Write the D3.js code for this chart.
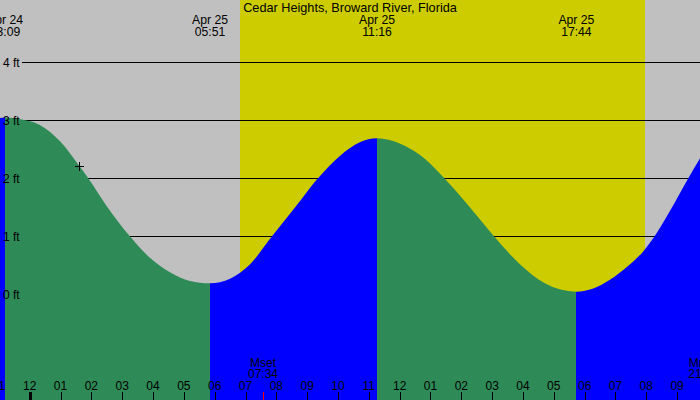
<!DOCTYPE html>
<html><head><meta charset="utf-8">
<script src="https://cdn.jsdelivr.net/npm/d3@7"></script>
<style>html,body{margin:0;padding:0;background:#c0c0c0;} svg{display:block;}</style>
</head><body><svg id="c" width="700" height="400"></svg>
<script>
const title = "Cedar Heights, Broward River, Florida";
// hours after midnight Apr 25, tide height in feet
const tideHours = [-0.963, -0.8, -0.3, 0.33, 1.0, 1.6, 1.9, 2.5, 3.25, 3.9, 4.55, 5.2, 5.85, 6.5, 7.15, 7.86, 8.61, 9.35, 10.07, 10.71, 11.267, 12.0, 12.66, 13.31, 13.96, 14.5, 15.06, 15.9, 16.71, 17.733, 18.28, 18.82, 19.37, 19.9, 20.23, 20.77, 21.34, 21.74, 22.4];
const tideFeet  = [3.04, 3.05, 3.02, 2.92, 2.63, 2.22, 2.0, 1.52, 1.0, 0.63, 0.38, 0.23, 0.19, 0.27, 0.52, 1.0, 1.5, 2.0, 2.39, 2.62, 2.69, 2.60, 2.40, 2.08, 1.70, 1.36, 1.0, 0.52, 0.19, 0.045, 0.10, 0.25, 0.47, 0.74, 0.97, 1.44, 1.98, 2.34, 2.85];
const extremeHours = [-0.8, 5.85, 11.267, 17.733];
const extremeDates = ["Apr 24", "Apr 25", "Apr 25", "Apr 25"];
const extremeTimes = ["23:09", "05:51", "11:16", "17:44"];
const sunHours = [6.82, 19.95]; // sunrise, sunset
const moonHours = [7.567, 21.85];
const moonNames = ["Mset", "Mrise"];
const moonTimes = ["07:34", "21:51"];
const hourTicks = d3.range(-1, 23);
const footTicks = [0, 1, 2, 3, 4];
const markerHour = 1.61, markerFeet = 2.22;

const W = 700, H = 400;
const svg = d3.select("#c");
const x = d3.scaleLinear().domain([-0.963, 21.742]).range([0, W]);
const y = d3.scaleLinear().domain([0, 4]).range([294.3, 62.3]);
const font = "'Liberation Sans', Arial, sans-serif";

svg.append("rect").attr("width", W).attr("height", H).attr("fill", "#c0c0c0");
svg.append("rect").attr("x", Math.round(x(sunHours[0]))).attr("y", 0)
  .attr("width", Math.round(x(sunHours[1])) - Math.round(x(sunHours[0]))).attr("height", H)
  .attr("fill", "#cccc00");

// grid lines
svg.append("g").selectAll("line").data(footTicks).join("line")
  .attr("x1", 22).attr("x2", W).attr("y1", d => Math.round(y(d)) + 0.5).attr("y2", d => Math.round(y(d)) + 0.5)
  .attr("stroke", "#000").attr("stroke-width", 1).attr("shape-rendering", "crispEdges");

// tide area
const pts = tideHours.map((h, i) => ({h, f: tideFeet[i]}));
const area = d3.area().x(d => x(d.h)).y0(H).y1(d => y(d.f)).curve(d3.curveMonotoneX);
const bounds = [-5].concat(extremeHours, [30]);
const defs = svg.append("defs");
for (let i = 0; i < bounds.length - 1; i++) {
  const x0 = Math.max(-10, x(bounds[i])), x1 = Math.min(W + 10, x(bounds[i + 1]));
  defs.append("clipPath").attr("id", "seg" + i).append("rect")
    .attr("x", Math.round(x0)).attr("y", 0).attr("width", Math.round(x1) - Math.round(x0)).attr("height", H);
  svg.append("path").datum(pts).attr("d", area)
    .attr("fill", i % 2 === 0 ? "#0000ff" : "#2e8b57")
    .attr("clip-path", "url(#seg" + i + ")");
}

// y labels
svg.append("g").selectAll("text").data(footTicks).join("text")
  .attr("x", 3).attr("y", d => y(d) + 4.4)
  .attr("font-family", font).attr("font-size", 12).attr("fill", "#000")
  .text(d => d + " ft");

// title
svg.append("text").attr("x", 350).attr("y", 12).attr("text-anchor", "middle")
  .attr("font-family", font).attr("font-size", 12.7).attr("fill", "#000").text(title);

// extreme labels
const ex = svg.append("g").selectAll("g").data(extremeHours).join("g");
ex.append("text").attr("x", d => x(d)).attr("y", 23.5).attr("text-anchor", "middle")
  .attr("font-family", font).attr("font-size", 12.2).attr("fill", "#000")
  .text((d, i) => extremeDates[i]);
ex.append("text").attr("x", d => x(d)).attr("y", 36).attr("text-anchor", "middle")
  .attr("font-family", font).attr("font-size", 12.2).attr("fill", "#000")
  .text((d, i) => extremeTimes[i]);

// hour ticks
const isMid = d => (((d % 24) + 24) % 24) === 0;
const fmt = h => { const v = ((h % 12) + 12) % 12 || 12; return String(v).padStart(2, "0"); };
const ht = svg.append("g").selectAll("g").data(hourTicks).join("g");
ht.append("rect").attr("x", d => Math.round(x(d)) - (isMid(d) ? 1.5 : 0.5))
  .attr("y", 392).attr("width", d => isMid(d) ? 3 : 1).attr("height", 8)
  .attr("fill", "#000").attr("shape-rendering", "crispEdges");
ht.append("text").attr("x", d => x(d)).attr("y", 390).attr("text-anchor", "middle")
  .attr("font-family", font).attr("font-size", 12).attr("fill", "#000").text(fmt);

// moon events
const mg = svg.append("g").selectAll("g").data(moonHours).join("g");
mg.append("rect").attr("x", d => Math.round(x(d)) - 0.5).attr("y", 392).attr("width", 1).attr("height", 8)
  .attr("fill", "#ff0000").attr("shape-rendering", "crispEdges");
mg.append("text").attr("x", d => x(d)).attr("y", 366.5).attr("text-anchor", "middle")
  .attr("font-family", font).attr("font-size", 12).attr("fill", "#000").text((d, i) => moonNames[i]);
mg.append("text").attr("x", d => x(d)).attr("y", 378).attr("text-anchor", "middle")
  .attr("font-family", font).attr("font-size", 12).attr("fill", "#000").text((d, i) => moonTimes[i]);

// current-time marker
const mx = Math.round(x(markerHour)), my = Math.round(y(markerFeet));
svg.append("line").attr("x1", mx - 4).attr("x2", mx + 5).attr("y1", my + 0.5).attr("y2", my + 0.5)
  .attr("stroke", "#000").attr("shape-rendering", "crispEdges");
svg.append("line").attr("x1", mx + 0.5).attr("x2", mx + 0.5).attr("y1", my - 4).attr("y2", my + 5)
  .attr("stroke", "#000").attr("shape-rendering", "crispEdges");
</script></body></html>
